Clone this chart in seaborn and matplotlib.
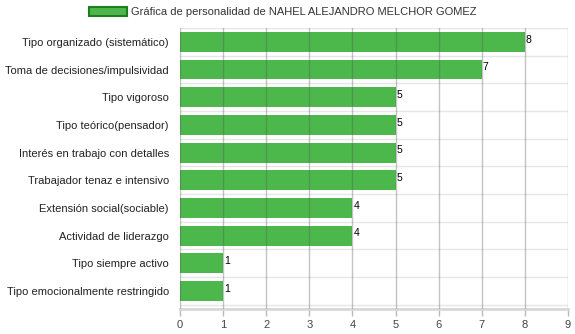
import matplotlib
matplotlib.use("Agg")
import matplotlib.pyplot as plt
import seaborn as sns
import pandas as pd
from matplotlib.patches import Patch

categories = [
    "Tipo organizado (sistemático)",
    "Toma de decisiones/impulsividad",
    "Tipo vigoroso",
    "Tipo teórico(pensador)",
    "Interés en trabajo con detalles",
    "Trabajador tenaz e intensivo",
    "Extensión social(sociable)",
    "Actividad de liderazgo",
    "Tipo siempre activo",
    "Tipo emocionalmente restringido",
]
values = [8, 7, 5, 5, 5, 5, 4, 4, 1, 1]
legend_label = "Gráfica de personalidad de NAHEL ALEJANDRO MELCHOR GOMEZ"
xticks = list(range(0, 10))

sns.set_theme(style="white")
plt.rcParams["font.family"] = ["Liberation Sans", "DejaVu Sans"]

df = pd.DataFrame({"cat": categories, "val": values})

fig = plt.figure(figsize=(5.75, 3.34), dpi=100)
ax = fig.add_axes([180/575, 1 - 309/334, (568-180)/575, (309-28)/334])

bar_color = "#4cb84c"
sns.barplot(data=df, y="cat", x="val", orient="h", color=bar_color,
            width=0.72, saturation=1, ax=ax, zorder=2, linewidth=0, edgecolor="none")

ax.set_xlim(0, 9)
ax.set_ylim(len(categories) - 0.5 + 0.15, -0.5)
ax.set_xticks(xticks)
ax.set_xticklabels([str(t) for t in xticks], fontsize=8, color="#444444")
ax.set_xlabel("")
ax.set_ylabel("")
ax.tick_params(axis="y", labelsize=8, labelcolor="#222222", length=0, pad=8)
ax.tick_params(axis="x", length=5, color="#bbbbbb", width=1, pad=3, direction="out", bottom=True)

for x in xticks:
    ax.axvline(x, color="#555555", alpha=0.35, lw=1, zorder=3)
for i in range(len(categories) + 1):
    ax.axhline(i - 0.5, color="#e6e6e6", lw=1, zorder=0)

for s in ["top", "right", "left"]:
    ax.spines[s].set_visible(False)
ax.spines["bottom"].set_color("#d8d8d8")
ax.spines["bottom"].set_linewidth(2)

for i, v in enumerate(values):
    ax.text(v + 0.02, i - 0.08, str(v), va="center", ha="left", fontsize=7.5, color="#000000", zorder=4)

handle = Patch(facecolor=bar_color, edgecolor="#1e7d1e", linewidth=1.5)
fig.legend([handle], [legend_label], loc="center", bbox_to_anchor=(283/575, 1 - 12/334),
           frameon=False, fontsize=8, handlelength=3.4, handleheight=0.9,
           handletextpad=0.4, labelcolor="#333333")

fig.savefig("out.png", dpi=100, facecolor="white")
